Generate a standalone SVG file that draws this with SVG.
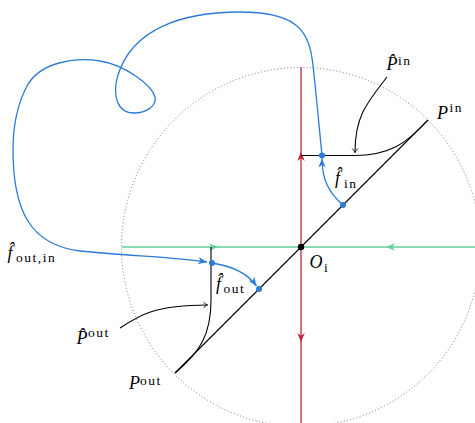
<svg xmlns="http://www.w3.org/2000/svg" width="475" height="423" viewBox="0 0 475 423">
<style>
.m{font-family:"Liberation Serif","Times New Roman","DejaVu Serif",serif;font-style:italic;font-size:18px;fill:#000}
.s{font-family:"Liberation Serif","Times New Roman","DejaVu Serif",serif;font-style:normal;font-size:13.5px;letter-spacing:1.5px}
.blue{fill:none;stroke:#2b7bd9;stroke-width:1.3}
.blk{fill:none;stroke:#000;stroke-width:1.1}
.red{fill:none;stroke:#c02838;stroke-width:1.3}
.grn{fill:none;stroke:#5fd19b;stroke-width:1.5}
.bdot{fill:#2b7bd9}
</style>
<defs>
<marker id="ab" viewBox="-10 -5 11 10" refX="0" refY="0" markerWidth="11" markerHeight="10" markerUnits="userSpaceOnUse" orient="auto">
<path d="M0,0 L-9,-3.6 L-6.3,0 L-9,3.6 Z" fill="#2b7bd9"/>
</marker>
<marker id="ar" viewBox="-10 -5 11 10" refX="0" refY="0" markerWidth="11" markerHeight="10" markerUnits="userSpaceOnUse" orient="auto">
<path d="M0,0 L-9,-3.8 L-6.3,0 L-9,3.8 Z" fill="#c02838"/>
</marker>
<marker id="ag" viewBox="-10 -5 11 10" refX="0" refY="0" markerWidth="11" markerHeight="10" markerUnits="userSpaceOnUse" orient="auto">
<path d="M0,0 L-9,-3.8 L-6.3,0 L-9,3.8 Z" fill="#5fd19b"/>
</marker>
<marker id="ak" viewBox="-6 -4 7 8" refX="0" refY="0" markerWidth="7" markerHeight="8" markerUnits="userSpaceOnUse" orient="auto">
<path d="M-4,-2.8 Q-1.5,-0.6 0,0 Q-1.5,0.6 -4,2.8" fill="none" stroke="#000" stroke-width="0.9"/>
</marker>
</defs>

<g id="circle">
<circle cx="301" cy="247" r="179.5" fill="none" stroke="#777" stroke-width="1" stroke-dasharray="1 2.3"/>
</g>

<g id="connectors">
<path class="grn" d="M122,247 L218,247 L301,247" marker-mid="url(#ag)"/>
<path class="grn" d="M475,247 L386,247 L301,247" marker-mid="url(#ag)"/>
<path class="red" d="M301,247 L301,152 L301,67" marker-mid="url(#ar)"/>
<path class="red" d="M301,247 L301,342 L301,423" marker-mid="url(#ar)"/>
<path class="blk" d="M175,373 L428,120"/>
<path class="blk" d="M301,155.5 L354,155.5 C389,155.5 406,144 428,120"/>
<path class="blk" d="M211,247 L211,300 C211,335 200,352 175,373"/>
<path class="blk" d="M387,77 C365,105 355,118 355,152.5" marker-end="url(#ak)" stroke-width="0.9"/>
<path class="blk" d="M120,328 C140,315 155,305 207.5,305" marker-end="url(#ak)" stroke-width="0.9"/>
<path class="blue" d="M343,205 C329,193 322,180 322,158.5" marker-end="url(#ab)"/>
<path class="blue" d="M212,263 C232,266 248,274 256.5,286" marker-end="url(#ab)"/>
<path class="blue" d="M322,155.5 C318,115 314.5,75 312,58 C308,30 295,12 240,12 C180,12 132,30 118,75 C112,95 117,113 134,113 C146,113 157,106 155,97 C152,85 125,65 100,61 C75,57 40,62 27,86 C18,103 13,125 13,150 C13,210 30,245 80,251 C130,256 175,257 207,262" marker-end="url(#ab)"/>
</g>

<g id="origin"><circle cx="301" cy="247" r="3.2" fill="#000"/></g>
<g id="points">
<circle class="bdot" cx="322" cy="155.5" r="3"/>
<circle class="bdot" cx="343" cy="205" r="3"/>
<circle class="bdot" cx="212" cy="263" r="3"/>
<circle class="bdot" cx="259" cy="289" r="3"/>
</g>

<g id="label-Phat-in"><text class="m" x="386.5" y="70">P̂<tspan class="s" x="398" y="64.5">in</tspan></text></g>
<g id="label-P-in"><text class="m" x="437" y="119">P<tspan class="s" x="449.5" y="112">in</tspan></text></g>
<g id="label-fhat-in"><text class="m" x="335" y="184">f̂<tspan class="s" x="344" y="187.5">in</tspan></text></g>
<g id="label-O"><text class="m" x="309.5" y="268">O<tspan class="s" x="324" y="271.5">i</tspan></text></g>
<g id="label-fhat-out"><text class="m" x="216" y="289.5">f̂<tspan class="s" x="223.5" y="292.7">out</tspan></text></g>
<g id="label-fhat-outin"><text class="m" x="7.5" y="259">f̂<tspan class="s" x="16" y="262">out,in</tspan></text></g>
<g id="label-Phat-out"><text class="m" x="76.5" y="344">P̂<tspan class="s" x="88" y="336.5">out</tspan></text></g>
<g id="label-P-out"><text class="m" x="129" y="389">P<tspan class="s" x="140" y="385">out</tspan></text></g>
</svg>
